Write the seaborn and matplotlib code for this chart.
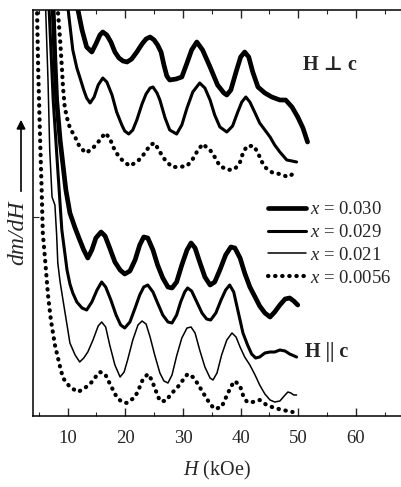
import matplotlib
matplotlib.use("Agg")
import matplotlib.pyplot as plt
import pandas as pd
import seaborn as sns

# field H (kOe) and dm/dH signal (arbitrary units, curves offset vertically)
# --- H perpendicular to c (upper group) ---
h_perp_030 = [10.7, 11.8, 12.5, 13.3, 14.2, 14.9, 15.6, 16.1, 16.8, 17.5, 18.2, 18.9, 19.6, 20.3, 21.1, 22.0,
              22.9, 23.6, 24.3, 25.0, 25.6, 26.2, 26.7, 27.2, 27.7, 28.8, 29.8, 30.7, 31.5, 32.4, 33.4, 34.7,
              36.0, 37.1, 37.6, 38.3, 39.2, 40.0, 40.7, 41.4, 42.1, 43.0, 44.2, 45.4, 46.8, 47.8, 48.9, 49.9,
              50.8, 51.6]
s_perp_030 = [436, 406, 386, 369, 364, 372, 381, 384, 381, 374, 364, 358, 355, 354, 357, 364,
              372, 377, 379, 376, 371, 364, 351, 340, 336, 337, 339, 353, 366, 374, 366, 349,
              331, 323, 321, 326, 344, 359, 364, 359, 344, 329, 323, 319, 316, 316, 309, 299,
              288, 274]

h_perp_029 = [9.4, 10.1, 10.9, 11.6, 12.1, 12.8, 13.3, 13.9, 14.6, 15.3, 16.1, 16.8, 17.7, 18.5, 19.4, 19.9,
              20.6, 21.3, 22.0, 22.9, 23.6, 24.3, 24.8, 25.5, 26.0, 26.9, 27.7, 28.9, 29.8, 30.7, 31.7, 32.9,
              33.8, 34.7, 35.5, 36.4, 37.6, 38.6, 39.5, 40.2, 40.9, 41.6, 42.5, 43.3, 44.2, 45.1, 45.9, 46.8,
              48.0, 48.9, 49.7]
s_perp_029 = [436, 406, 366, 348, 339, 326, 318, 313, 319, 331, 338, 334, 321, 304, 291, 285,
              282, 286, 296, 312, 322, 328, 329, 323, 316, 298, 286, 282, 291, 308, 324, 333,
              328, 316, 301, 289, 284, 290, 304, 314, 319, 314, 303, 293, 286, 279, 271, 264,
              256, 255, 254]

h_perp_0056 = [8.0, 8.3, 8.7, 9.0, 9.2, 9.5, 9.9, 10.4, 11.3, 12.1, 13.2, 14.4, 15.6, 16.5, 17.3, 17.9,
               18.7, 19.6, 20.8, 22.2, 23.4, 24.3, 25.1, 26.0, 26.9, 28.1, 29.3, 30.7, 31.7, 32.4, 33.4, 34.7,
               35.5, 36.4, 37.8, 39.0, 39.9, 40.4, 41.1, 42.3, 43.0, 43.7, 44.4, 45.6, 46.8, 48.2, 49.6]
s_perp_0056 = [436, 406, 376, 349, 329, 309, 298, 288, 279, 269, 263, 268, 276, 283, 278, 269,
               261, 255, 250, 255, 263, 271, 273, 264, 256, 249, 249, 250, 257, 264, 272, 266,
               259, 250, 246, 247, 254, 263, 270, 270, 263, 254, 248, 243, 242, 239, 244]

# --- H parallel to c (lower group) ---
h_par_030 = [7.1, 7.5, 7.8, 8.1, 8.7, 9.2, 9.7, 10.4, 11.3, 12.1, 12.8, 13.5, 14.2, 14.9, 15.8, 16.5,
             17.3, 18.2, 19.1, 19.9, 20.8, 21.7, 22.5, 23.2, 23.9, 24.8, 25.6, 26.5, 27.4, 28.1, 28.9, 29.8,
             30.7, 31.4, 32.1, 32.9, 33.8, 34.7, 35.5, 36.4, 37.4, 38.3, 39.0, 39.9, 40.7, 41.6, 42.5, 43.3,
             44.2, 45.1, 45.9, 46.8, 47.7, 48.5, 49.2, 49.9]
s_par_030 = [436, 406, 356, 316, 276, 251, 226, 203, 188, 176, 166, 158, 166, 178, 184, 180,
             168, 154, 146, 142, 145, 156, 171, 179, 178, 166, 151, 138, 129, 128, 134, 151,
             166, 173, 168, 154, 139, 131, 134, 146, 161, 169, 168, 158, 143, 129, 119, 110,
             103, 99, 104, 111, 117, 118, 115, 111]

h_par_029 = [6.4, 6.8, 7.5, 8.3, 9.0, 9.9, 10.4, 10.9, 11.6, 12.5, 13.3, 14.2, 15.1, 15.9, 16.6, 17.5,
             18.4, 19.2, 19.9, 20.8, 21.7, 22.5, 23.2, 23.9, 24.8, 25.6, 26.5, 27.4, 28.1, 28.9, 29.6, 30.3,
             30.8, 31.5, 32.4, 33.3, 34.1, 34.8, 35.7, 36.6, 37.4, 38.1, 38.8, 39.5, 40.4, 41.2, 41.9, 42.6,
             43.3, 44.2, 45.1, 45.9, 46.8, 47.7, 48.5, 49.7]
s_par_029 = [436, 406, 316, 246, 186, 146, 132, 123, 114, 108, 106, 114, 126, 134, 129, 116,
             101, 91, 88, 94, 108, 121, 129, 131, 124, 113, 101, 94, 93, 101, 114, 124,
             128, 125, 114, 103, 97, 96, 103, 116, 126, 131, 124, 106, 83, 71, 62, 58,
             59, 63, 64, 64, 66, 65, 62, 59]

h_par_021 = [5.9, 6.2, 6.6, 6.9, 7.3, 7.8, 8.1, 8.3, 8.7, 9.2, 9.9, 10.4, 11.3, 12.1, 12.8, 13.5,
             14.4, 15.3, 15.9, 16.6, 17.3, 18.2, 19.1, 19.8, 20.4, 21.3, 22.2, 22.9, 23.6, 24.3, 25.1, 26.0,
             26.7, 27.4, 28.1, 28.9, 29.8, 30.7, 31.4, 32.1, 32.9, 33.8, 34.7, 35.2, 35.9, 36.7, 37.6, 38.5,
             39.2, 39.9, 40.7, 41.6, 42.5, 43.3, 44.2, 45.1, 45.9, 46.8, 47.7, 48.2, 48.7, 49.2, 49.7]
s_par_021 = [436, 406, 336, 266, 219, 211, 181, 153, 134, 116, 91, 73, 61, 54, 58, 64,
             76, 90, 94, 89, 71, 51, 39, 44, 56, 76, 91, 95, 92, 79, 61, 43,
             35, 33, 41, 60, 78, 88, 89, 83, 66, 49, 38, 36, 43, 61, 76, 83,
             79, 69, 59, 51, 41, 31, 22, 16, 14, 15, 21, 24, 23, 21, 21]

h_par_0056 = [4.5, 4.7, 4.9, 5.2, 5.5, 5.7, 6.1, 6.6, 7.1, 7.8, 8.7, 9.2, 10.4, 11.8, 13.0, 14.2,
              15.1, 15.6, 16.5, 17.0, 17.7, 18.5, 19.4, 20.3, 21.7, 22.5, 23.0, 23.9, 24.6, 25.1, 26.0, 27.0,
              28.1, 29.1, 30.0, 30.8, 31.7, 32.6, 33.4, 34.7, 35.5, 36.7, 37.8, 38.5, 39.0, 39.9, 40.4, 41.1,
              42.1, 43.3, 44.5, 45.9, 47.3, 49.0]
s_par_0056 = [436, 406, 346, 283, 226, 183, 156, 121, 96, 71, 49, 38, 29, 24, 28, 34,
              41, 44, 42, 36, 28, 19, 14, 13, 19, 29, 36, 42, 36, 28, 15, 15,
              23, 29, 36, 42, 39, 32, 24, 12, 7, 9, 23, 31, 35, 30, 21, 14,
              14, 16, 11, 8, 6, 4]

labels = ["0.030", "0.029", "0.021", "0.0056"]
x_ticks = [10, 20, 30, 40, 50, 60]

sns.set_style("ticks")
plt.rcParams["font.family"] = ["Liberation Serif", "DejaVu Serif"]
plt.rcParams["mathtext.fontset"] = "custom"
plt.rcParams["mathtext.it"] = "Liberation Serif:italic"
plt.rcParams["mathtext.rm"] = "Liberation Serif"

styles = {
    "0.030": dict(lw=3.4, linestyle="-"),
    "0.029": dict(lw=2.2, linestyle="-"),
    "0.021": dict(lw=1.1, linestyle="-"),
    "0.0056": dict(lw=3.0, linestyle=(0, (0.1, 1.6)), dash_capstyle="round"),
}

fig = plt.figure(figsize=(4.01, 4.87), dpi=100)
ax = fig.add_axes([33 / 401, 71 / 487, 368 / 401, 406 / 487])

curves = [
    (h_perp_030, s_perp_030, "0.030", False),
    (h_perp_029, s_perp_029, "0.029", False),
    (h_perp_0056, s_perp_0056, "0.0056", False),
    (h_par_030, s_par_030, "0.030", True),
    (h_par_029, s_par_029, "0.029", True),
    (h_par_021, s_par_021, "0.021", True),
    (h_par_0056, s_par_0056, "0.0056", True),
]

handles = {}
for h, s, key, in_legend in curves:
    df = pd.DataFrame({"H": h, "S": s})
    sns.lineplot(data=df, x="H", y="S", ax=ax, color="black", sort=False,
                 estimator=None, legend=False, **styles[key])
    if in_legend:
        handles[key] = ax.lines[-1]

ax.legend([handles[k] for k in labels], [f"$x$ = {k}" for k in labels],
          loc="center left", bbox_to_anchor=(0.6386, 0.4236), frameon=False,
          borderpad=0, borderaxespad=0, handlelength=2.0, handletextpad=0.25,
          labelspacing=0.3, fontsize=13.5)

ax.set_xlim(4, 67.8)
ax.set_ylim(0, 406)
ax.set_xticks(x_ticks)
ax.set_xticks(range(5, 66, 5), minor=True)
ax.set_yticks([199])
ax.set_yticklabels([])
ax.tick_params(axis="x", which="major", direction="in", length=6, width=1,
               top=True, labelsize=13.5, pad=10)
ax.tick_params(axis="x", which="minor", direction="in", length=3, width=0.8, top=True)
ax.tick_params(axis="y", direction="in", length=4, width=0.8)
ax.spines["right"].set_visible(False)
for sp in ["left", "bottom", "top"]:
    ax.spines[sp].set_linewidth(1.1)
    ax.spines[sp].set_color("black")

ax.set_xlabel("$H$ (kOe)", fontsize=14.5, labelpad=9)
ax.set_ylabel("")

fig.text(18 / 401, 1 - 233 / 487, "dm/dH", rotation=90, style="italic",
         fontsize=17, ha="center", va="center")
ax.annotate("", xy=(21 / 401, 1 - 117 / 487), xytext=(21 / 401, 1 - 194 / 487),
            xycoords="figure fraction", textcoords="figure fraction",
            arrowprops=dict(arrowstyle="-|>", color="black", lw=1.2, mutation_scale=13))

ax.text(0.807, 0.8645, "H \u22a5 c", transform=ax.transAxes, fontweight="bold",
        fontsize=14.5, ha="center", va="center")
ax.text(0.799, 0.158, "H || c", transform=ax.transAxes, fontweight="bold",
        fontsize=14.5, ha="center", va="center")

fig.savefig("out.png", dpi=100)
